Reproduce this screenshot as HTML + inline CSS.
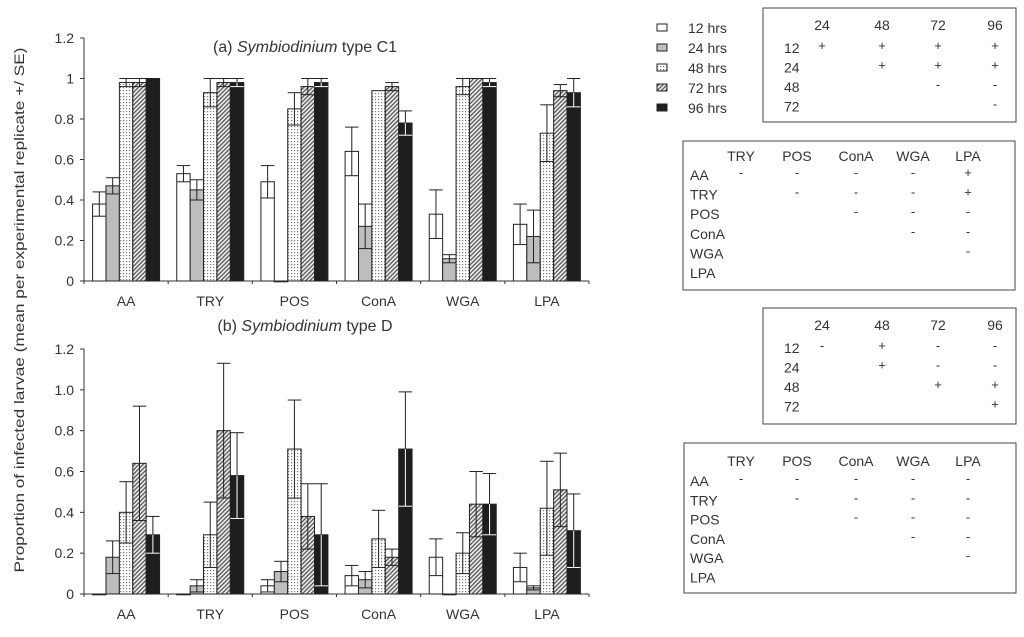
<!DOCTYPE html>
<html><head><meta charset="utf-8"><style>
body{margin:0;background:#fff;}
svg text{font-family:"Liberation Sans",sans-serif;fill:#333;}
</style></head><body>
<svg id="fig" width="1024" height="632" viewBox="0 0 1024 632">
<defs>
<pattern id="dots" width="3" height="3" patternUnits="userSpaceOnUse"><rect width="3" height="3" fill="#fff"/><rect x="0" y="0" width="1.2" height="1.2" fill="#777"/></pattern>
<pattern id="hatch" width="3" height="3" patternUnits="userSpaceOnUse" patternTransform="rotate(45)"><rect width="3" height="3" fill="#eee"/><rect width="1.3" height="3" fill="#555"/></pattern>
</defs>
<text x="0" y="0" transform="translate(24,310) rotate(-90)" text-anchor="middle" font-size="14" textLength="525" lengthAdjust="spacingAndGlyphs">Proportion of infected larvae (mean per experimental replicate +/ SE)</text>
<g id="legend"></g>
<g id="tables"></g>
</svg>
<script>
const categories=["AA","TRY","POS","ConA","WGA","LPA"];
const seriesNames=["12 hrs","24 hrs","48 hrs","72 hrs","96 hrs"];
const yTicksA=["0","0.2","0.4","0.6","0.8","1","1.2"];
const yTicksB=["0","0.2","0.4","0.6","0.8","1.0","1.2"];
const c1Means=[[0.38,0.47,0.98,0.98,1.0],[0.53,0.45,0.93,0.98,0.98],[0.49,0.0,0.85,0.96,0.98],[0.64,0.27,0.94,0.96,0.78],[0.33,0.11,0.96,1.0,0.98],[0.28,0.22,0.73,0.94,0.93]];
const c1Errs=[[0.06,0.04,0.02,0.02,0],[0.04,0.05,0.07,0.02,0.02],[0.08,0,0.08,0.04,0.02],[0.12,0.11,0,0.02,0.06],[0.12,0.02,0.04,0,0.02],[0.1,0.13,0.14,0.03,0.07]];
const dMeans=[[0,0.18,0.40,0.64,0.29],[0,0.04,0.29,0.80,0.58],[0.04,0.11,0.71,0.38,0.29],[0.09,0.07,0.27,0.18,0.71],[0.18,0,0.20,0.44,0.44],[0.13,0.03,0.42,0.51,0.31]];
const dErrs=[[0,0.08,0.15,0.28,0.09],[0,0.03,0.16,0.33,0.21],[0.03,0.05,0.24,0.16,0.25],[0.05,0.04,0.14,0.04,0.28],[0.09,0,0.10,0.16,0.15],[0.07,0.01,0.23,0.18,0.18]];
const fills=["#fff","#bdbdbd","url(#dots)","url(#hatch)","#1e1e1e"];
const NS="http://www.w3.org/2000/svg";
const svg=document.getElementById('fig');
function mk(tag,attrs,parent,txt){const e=document.createElementNS(NS,tag);for(const k in attrs)e.setAttribute(k,attrs[k]);if(txt!==undefined)e.textContent=txt;(parent||svg).appendChild(e);return e;}

function chart(name,y0,y12,means,errs,ticks,titleY,titlePre){
  const g=mk('g',{});
  
  
  const x0=84,x1=589,gw=(x1-x0)/categories.length,bw=13.4;
  const ys=v=>y0-(v/1.2)*(y0-y12);
  const ax=mk('line',{x1:x0,y1:y12,x2:x0,y2:y0,stroke:'#333','stroke-width':1},g);
  
  
  const xa=mk('line',{x1:x0,y1:y0,x2:x1,y2:y0,stroke:'#333','stroke-width':1},g);
  
  
  ticks.forEach((t,i)=>{const v=i*0.2;const y=ys(v);
    mk('line',{x1:x0-4,y1:y,x2:x0,y2:y,stroke:'#333'},g);
    const tl=mk('text',{x:x0-10,y:y+5,'text-anchor':'end','font-size':14},g,t);
    
    });
  for(let i=0;i<=categories.length;i++){mk('line',{x1:x0+i*gw,y1:y0,x2:x0+i*gw,y2:y0+3,stroke:'#333'},g);}
  categories.forEach((c,i)=>{
    const cx=x0+gw*(i+0.5);
    const lb=mk('text',{x:cx,y:y0+25,'text-anchor':'middle','font-size':14},g,c);
    
    
    means[i].forEach((m,j)=>{
      const bx=cx-2.5*bw+j*bw;const top=ys(m);
      const r=mk('rect',{x:bx,y:top,width:bw,height:Math.max(y0-top,0.8),fill:fills[j],stroke:'#222','stroke-width':1},g);
      
      
      const e=errs[i][j];
      if(e>0){const mx=bx+bw/2,yt=ys(m+e),yb=ys(Math.max(m-e,0));
        const inner=j==4?'#fff':'#222';
        const eg=mk('g',{},g);
        
        
        mk('line',{x1:mx,y1:yt,x2:mx,y2:top,stroke:'#222'},eg);
        mk('line',{x1:mx,y1:top,x2:mx,y2:yb,stroke:inner},eg);
        mk('line',{x1:bx,y1:yt,x2:bx+bw,y2:yt,stroke:'#222'},eg);
        mk('line',{x1:bx,y1:yb,x2:bx+bw,y2:yb,stroke:inner},eg);}
    });
  });
  const t=mk('text',{x:305,y:titleY,'text-anchor':'middle','font-size':16},g);
  
  
  mk('tspan',{},t,titlePre+' ');
  mk('tspan',{'font-style':'italic'},t,'Symbiodinium');
  mk('tspan',{},t,titlePre=='(a)'?' type C1':' type D');
}
chart('chart-c1',281,38,c1Means,c1Errs,yTicksA,52,'(a)');
chart('chart-d',594,349,dMeans,dErrs,yTicksB,331,'(b)');

const lg=document.getElementById('legend');
seriesNames.forEach((s,i)=>{const y=28+i*20;
  const r=mk('rect',{x:657,y:y-4,width:10,height:7,fill:fills[i],stroke:'#222'},lg);
  
  
  const t=mk('text',{x:688,y:y+5,'font-size':14},lg,s);
  
  });

const tg=document.getElementById('tables');
function table(name,x,y,w,h,cols,colX,headY,rows,rowX,rowY0,rowStep,marks){
  const g=mk('g',{},tg);
  
  
  mk('rect',{x:x,y:y,width:w,height:h,fill:'#fff',stroke:'#444','stroke-width':1},g);
  cols.forEach((c,i)=>mk('text',{x:colX[i],y:headY,'text-anchor':'middle','font-size':14},g,c));
  rows.forEach((r,i)=>{const yy=rowY0+i*rowStep;
    mk('text',{x:rowX,y:yy,'font-size':14},g,r);
    (marks[i]||[]).forEach((m,k)=>{if(m)mk('text',{x:colX[k],y:yy-3,'text-anchor':'middle','font-size':13},g,m);});});
}
table('time-table-c1',763,8,253,114,["24","48","72","96"],[822,882,938,995],30,["12","24","48","72"],784,53,19.5,
 [["+","+","+","+"],["","+","+","+"],["","","-","-"],["","","","-"]]);
table('treatment-table-c1',683,141,332,149,["TRY","POS","ConA","WGA","LPA"],[741,797,856,913,968],161,["AA","TRY","POS","ConA","WGA","LPA"],690,180,19.6,
 [["-","-","-","-","+"],["","-","-","-","+"],["","","-","-","-"],["","","","-","-"],["","","","","-"],[]]);
table('time-table-d',763,308,253,116,["24","48","72","96"],[822,882,938,995],330,["12","24","48","72"],784,353,19.5,
 [["-","+","-","-"],["","+","-","-"],["","","+","+"],["","","","+"]]);
table('treatment-table-d',684,443,332,150,["TRY","POS","ConA","WGA","LPA"],[741,797,856,913,968],466,["AA","TRY","POS","ConA","WGA","LPA"],690,486,19.3,
 [["-","-","-","-","-"],["","-","-","-","-"],["","","-","-","-"],["","","","-","-"],["","","","","-"],[]]);
</script>
</body></html>
